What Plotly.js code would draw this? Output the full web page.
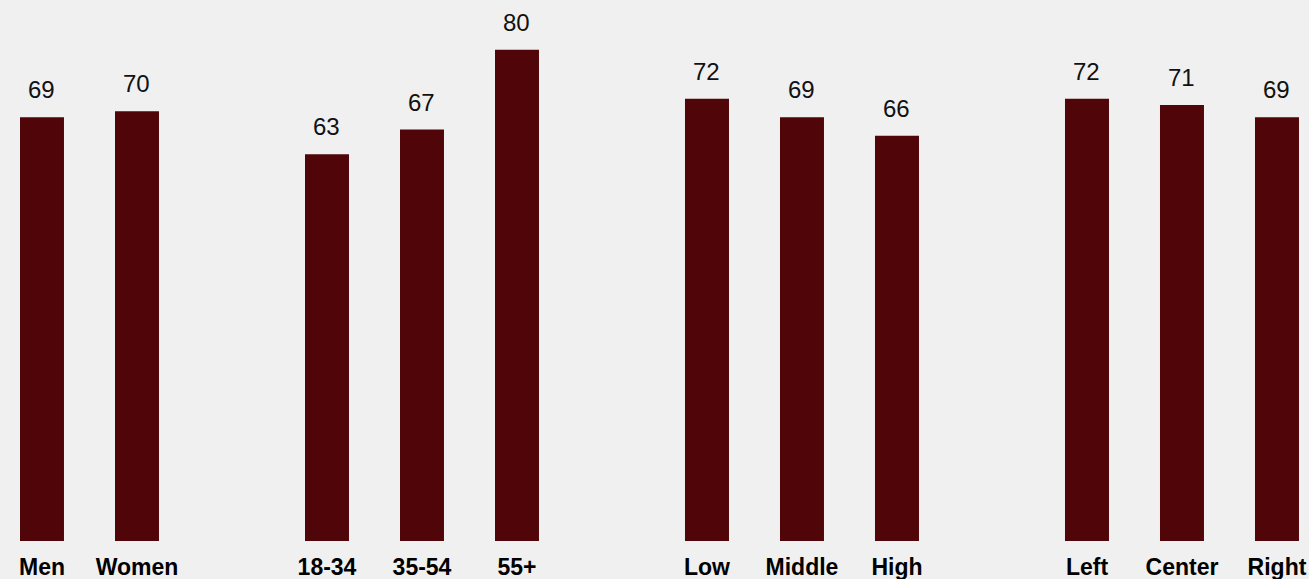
<!DOCTYPE html>
<html>
<head>
<meta charset="utf-8">
<script src="https://cdn.plot.ly/plotly-3.0.1.min.js"></script>
<style>html,body{margin:0;padding:0;background:#f0f0f0;}#chart{width:1309px;height:579px;}</style>
</head>
<body>
<div id="chart"></div>
<script>
const categories = ["Men", "Women", "18-34", "35-54", "55+", "Low", "Middle", "High", "Left", "Center", "Right"];
const slots = [0, 1, 3, 4, 5, 7, 8, 9, 11, 12, 13];
const values = [69, 70, 63, 67, 80, 72, 69, 66, 72, 71, 69];

const barColor = "#500508";

const trace = {
  type: "bar",
  x: slots,
  y: values,
  width: 0.463,
  marker: {color: barColor},
  hoverinfo: "skip"
};

const annotations = slots.map((s, i) => ({
  x: s, y: values[i], xref: "x", yref: "y",
  text: String(values[i]), showarrow: false,
  yanchor: "bottom", yshift: 12,
  font: {family: "Liberation Sans, Arial, sans-serif", size: 24, color: "#111"}
}));

const layout = {
  width: 1309, height: 579,
  margin: {l: 0, r: 0, t: 0, b: 38},
  paper_bgcolor: "#f0f0f0",
  plot_bgcolor: "#f0f0f0",
  showlegend: false,
  xaxis: {
    range: [-0.442, 13.337],
    tickvals: slots, ticktext: categories.map(c => "<b>" + c + "</b>"),
    showgrid: false, zeroline: false, showline: false, ticks: "",
    ticklabelstandoff: 10,
    tickfont: {family: "Liberation Sans, Arial, sans-serif", size: 23, color: "#000"},
    fixedrange: true
  },
  yaxis: {
    range: [0, 88.1], visible: false, showgrid: false, zeroline: false, fixedrange: true
  },
  annotations: annotations
};

Plotly.newPlot("chart", [trace], layout, {displayModeBar: false, staticPlot: true});
</script>
</body>
</html>
